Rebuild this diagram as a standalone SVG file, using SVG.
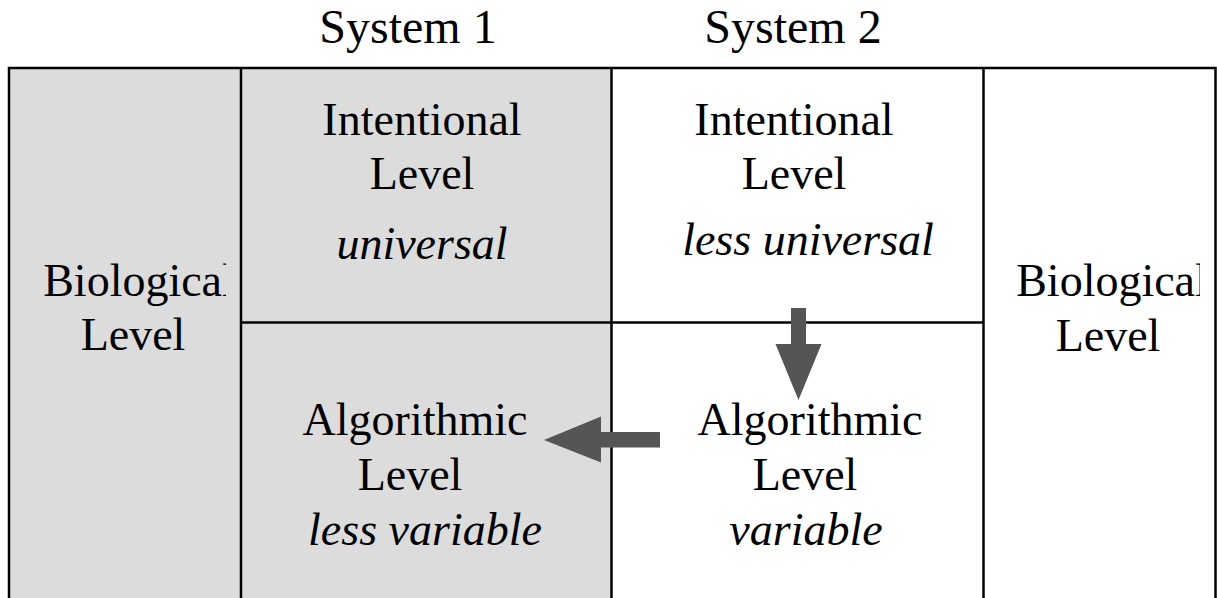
<svg xmlns="http://www.w3.org/2000/svg" width="1217" height="598" viewBox="0 0 1217 598">
<style>
.t{font-family:"Liberation Serif","Times New Roman",serif;font-size:46px;fill:#000;text-anchor:middle}
.h{font-size:48px}
.i{font-style:italic}
.ln{stroke:#000;stroke-width:2.5;fill:none}
.arr{fill:#555555}
</style>
<defs>
<clipPath id="cl"><rect x="10" y="68" width="216" height="530"/></clipPath>
<clipPath id="cr"><rect x="985" y="68" width="215" height="530"/></clipPath>
</defs>
<rect x="0" y="0" width="1217" height="598" fill="#fff"/>
<g id="headers">
<text class="t h" x="408" y="43">System 1</text>
<text class="t h" x="793" y="43">System 2</text>
</g>
<g id="bio-left">
<rect x="9" y="68" width="232" height="540" fill="#dcdcdc"/>
<g clip-path="url(#cl)"><text class="t" x="139" y="296">Biological</text></g>
<text class="t" x="133" y="350">Level</text>
</g>
<g id="s1-intentional">
<rect x="241" y="68" width="371" height="255" fill="#dcdcdc"/>
<text class="t" x="422" y="135">Intentional</text>
<text class="t" x="422" y="189">Level</text>
<text class="t i" x="422" y="259">universal</text>
</g>
<g id="s1-algorithmic">
<rect x="241" y="323" width="371" height="285" fill="#dcdcdc"/>
<text class="t" x="415" y="435">Algorithmic</text>
<text class="t" x="410" y="490">Level</text>
<text class="t i" x="425" y="545">less variable</text>
</g>
<g id="s2-intentional">
<text class="t" x="794" y="135">Intentional</text>
<text class="t" x="794" y="189">Level</text>
<text class="t i" x="808" y="255">less universal</text>
</g>
<g id="s2-algorithmic">
<text class="t" x="810" y="435">Algorithmic</text>
<text class="t" x="805" y="490">Level</text>
<text class="t i" x="806" y="545">variable</text>
</g>
<g id="bio-right">
<g clip-path="url(#cr)"><text class="t" x="1112" y="296">Biological</text></g>
<text class="t" x="1108" y="351">Level</text>
</g>
<g id="grid">
<rect class="ln" x="9" y="68" width="1206.5" height="540"/>
<line class="ln" x1="241" y1="68" x2="241" y2="598"/>
<line class="ln" x1="611.5" y1="68" x2="611.5" y2="598"/>
<line class="ln" x1="983.5" y1="68" x2="983.5" y2="598"/>
<line class="ln" x1="241" y1="322.5" x2="983.5" y2="322.5"/>
</g>
<g id="connectors">
<polygon class="arr" points="791,308 806,308 806,344 821.5,344 798.5,400 775.5,344 791,344"/>
<polygon class="arr" points="660,432 660,447.5 601,447.5 601,462.5 544,440 601,416.5 601,432"/>
</g>
</svg>
